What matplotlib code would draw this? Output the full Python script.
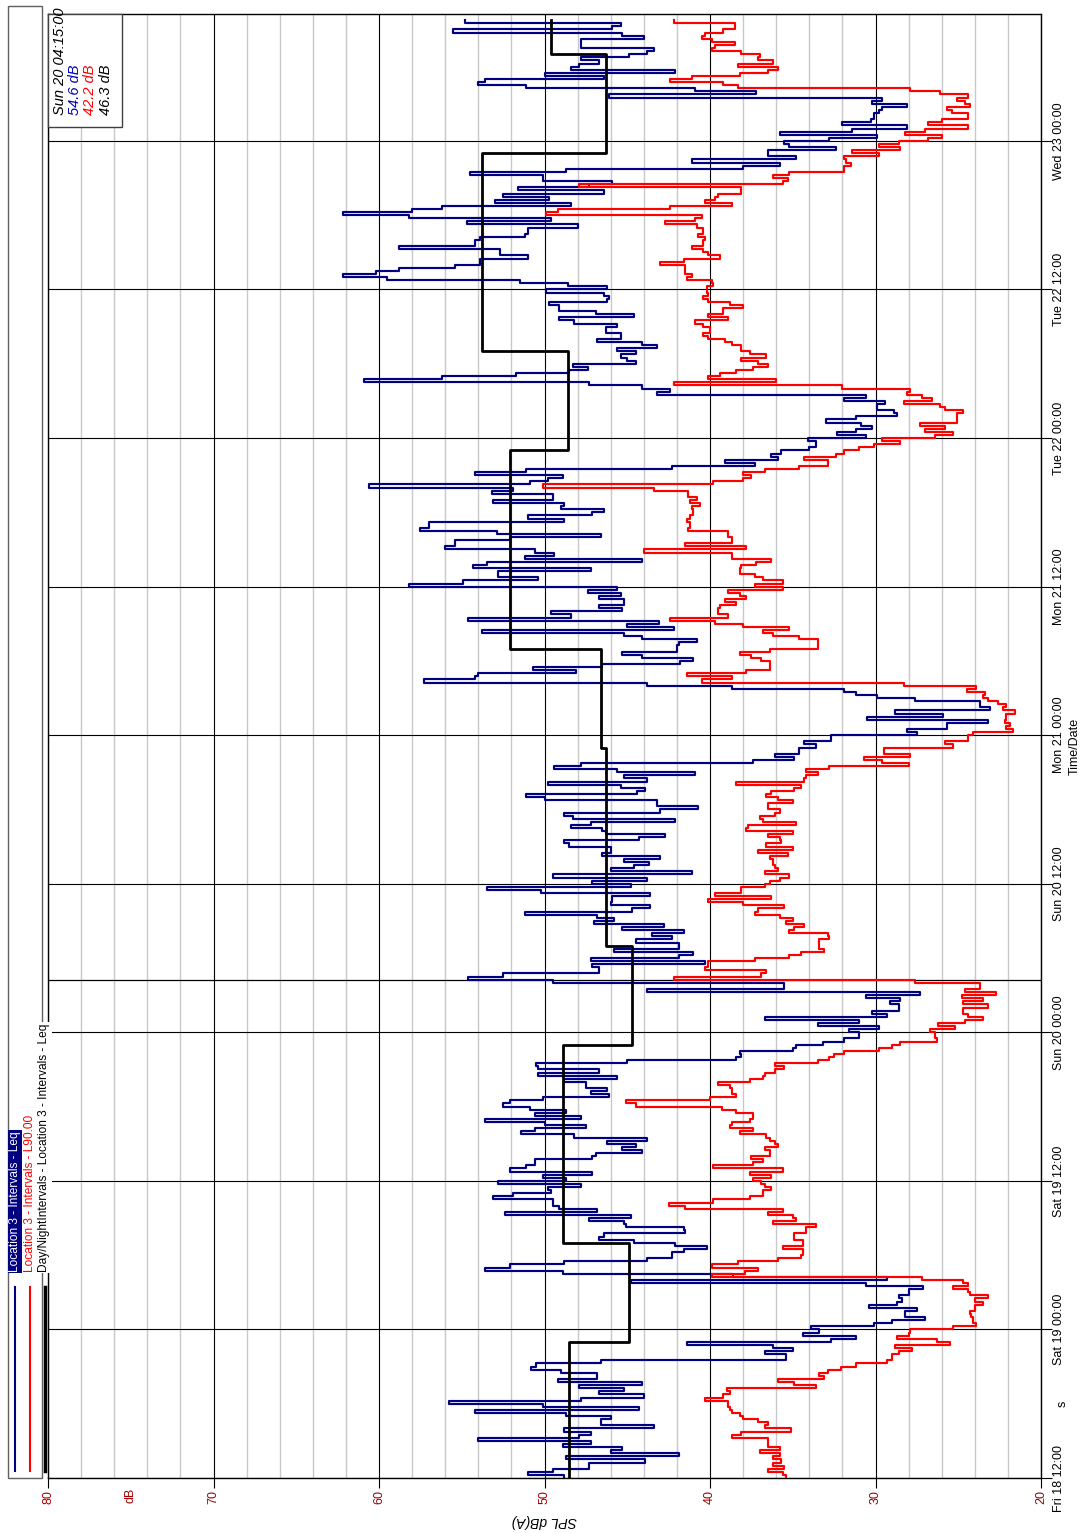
import numpy as np
import pandas as pd
import matplotlib
matplotlib.use("Agg")
import matplotlib.pyplot as plt
import matplotlib.dates as mdates
from matplotlib.lines import Line2D
from matplotlib.patches import Rectangle
from matplotlib.ticker import MultipleLocator, FixedLocator

# 15-minute interval levels, Fri 18 12:00 onwards, in 20 hour blocks
leq_block1 = [
    48.8, 51.0, 49.5, 47.3, 47.3, 43.9, 48.7, 41.9, 46.0, 45.3,
    48.9, 47.2, 54.0, 47.9, 47.2, 48.8, 43.4, 46.6, 46.6, 46.0,
    48.7, 54.2, 44.3, 50.1, 55.8, 47.8, 44.0, 46.7, 45.2, 47.9,
    44.1, 49.2, 46.8, 46.8, 49.0, 50.8, 50.5, 46.6, 35.4, 35.4,
    36.7, 35.0, 36.2, 41.4, 32.7, 31.2, 34.4, 33.4, 33.9, 30.1,
    29.0, 27.0, 28.2, 28.2, 27.5, 30.4, 28.7, 28.4, 28.6, 28.0,
    28.0, 27.1, 30.6, 44.8, 29.3, 38.6, 48.9, 53.6, 52.1, 48.8,
    43.8, 42.3, 42.3, 41.6, 40.2, 42.1, 44.6, 46.7, 46.4, 41.5]
leq_block2 = [
    41.6, 45.1, 45.2, 47.3, 44.8, 52.4, 46.8, 49.1, 49.5, 49.5,
    53.1, 51.9, 49.6, 49.8, 47.8, 52.8, 48.7, 50.1, 47.1, 52.1,
    51.1, 50.6, 50.6, 47.1, 46.9, 44.1, 45.3, 44.5, 46.2, 43.8,
    48.2, 51.4, 50.6, 47.5, 50.0, 53.6, 47.8, 50.6, 48.7, 50.9,
    52.5, 52.1, 50.1, 46.1, 47.2, 46.2, 47.5, 47.5, 48.8, 45.6,
    50.4, 46.7, 50.4, 50.5, 45.0, 38.4, 38.1, 38.2, 35.0, 34.8,
    33.2, 31.9, 31.0, 31.0, 31.6, 29.8, 33.5, 31.0, 36.7, 29.3,
    30.2, 28.6, 28.6, 29.1, 28.5, 30.6, 27.3, 43.8, 35.5, 35.5]
leq_block3 = [
    49.5, 54.6, 52.5, 46.7, 46.7, 47.1, 40.3, 47.2, 41.9, 41.0,
    45.8, 41.9, 41.9, 44.5, 42.3, 43.5, 41.6, 45.3, 42.8, 47.0,
    45.8, 46.8, 51.2, 44.7, 43.6, 46.0, 45.9, 45.9, 43.6, 50.2,
    53.5, 44.8, 47.1, 43.8, 49.5, 41.1, 46.0, 44.6, 43.7, 45.2,
    43.0, 46.5, 46.0, 46.0, 48.5, 48.8, 44.3, 42.7, 46.3, 46.5,
    48.4, 47.2, 42.1, 48.3, 48.8, 43.0, 40.7, 43.2, 43.2, 50.0,
    51.1, 44.4, 43.9, 45.4, 49.8, 43.8, 45.2, 40.9, 45.6, 49.4,
    47.8, 37.4, 34.9, 36.1, 34.6, 34.6, 33.6, 34.3, 32.7, 32.7]
leq_block4 = [
    27.5, 28.1, 25.7, 25.7, 23.2, 30.5, 25.9, 28.8, 23.1, 23.7,
    23.7, 27.6, 29.9, 31.2, 31.9, 38.7, 43.8, 57.3, 54.2, 54.0,
    48.1, 50.7, 46.5, 41.8, 41.0, 44.1, 45.3, 42.0, 42.0, 41.9,
    40.8, 44.1, 45.2, 53.8, 42.2, 45.0, 43.1, 54.6, 48.4, 49.6,
    45.3, 46.7, 45.2, 45.2, 46.7, 45.4, 47.4, 45.6, 58.2, 54.9,
    50.4, 52.8, 52.8, 47.2, 54.3, 53.5, 44.1, 51.2, 49.4, 50.6,
    56.0, 55.4, 55.4, 52.1, 46.6, 52.9, 57.5, 57.0, 57.0, 48.8,
    51.0, 47.1, 46.4, 49.0, 48.8, 53.1, 49.5, 49.5, 53.2, 51.9]
leq_block5 = [
    60.6, 50.9, 49.8, 48.9, 54.2, 51.1, 42.3, 37.3, 39.1, 35.9,
    36.3, 35.7, 34.0, 33.6, 33.6, 34.1, 30.6, 32.3, 31.2, 30.2,
    30.9, 33.0, 31.2, 28.7, 28.9, 29.9, 29.9, 29.4, 31.9, 30.6,
    43.2, 42.4, 44.1, 47.3, 60.9, 56.2, 51.7, 48.5, 47.4, 48.3,
    44.5, 45.0, 45.4, 44.5, 45.6, 43.2, 44.1, 46.8, 45.4, 45.4,
    46.3, 46.3, 45.6, 48.2, 49.1, 44.6, 46.9, 49.1, 49.1, 49.7,
    46.2, 46.1, 46.4, 49.9, 46.2, 48.6, 51.5, 59.5, 62.2, 60.2,
    58.8, 55.4, 53.9, 53.9, 51.0, 52.7, 52.7, 58.8, 54.2, 54.2]
leq_block6 = [
    53.9, 51.2, 51.0, 51.0, 48.0, 54.7, 49.6, 58.2, 62.2, 58.0,
    56.2, 48.4, 53.0, 49.7, 52.5, 46.4, 51.6, 47.3, 45.9, 50.1,
    50.1, 54.5, 48.7, 38.0, 35.8, 41.1, 34.8, 36.5, 36.5, 32.4,
    35.2, 35.5, 32.8, 29.9, 35.8, 31.4, 28.1, 32.0, 30.3, 30.1,
    30.1, 29.8, 29.6, 28.1, 30.2, 29.6, 46.1, 37.2, 40.9, 51.1,
    54.0, 53.6, 46.4, 50.0, 42.1, 48.4, 47.9, 46.7, 47.8, 44.9,
    43.8, 43.4, 47.8, 47.8, 47.8, 44.0, 45.3, 55.5, 45.9, 45.4,
    54.8]

l90_block1 = [
    35.4, 35.6, 36.5, 35.5, 36.2, 35.7, 36.2, 35.8, 37.0, 35.8,
    36.5, 36.5, 36.5, 38.7, 38.1, 35.1, 36.7, 36.5, 37.1, 38.0,
    38.2, 38.7, 38.8, 38.9, 38.9, 40.3, 39.2, 38.8, 39.0, 33.6,
    34.9, 35.9, 33.1, 33.4, 32.9, 32.1, 31.2, 29.3, 29.0, 29.0,
    28.6, 27.8, 28.8, 25.5, 26.3, 28.7, 28.0, 27.9, 25.3, 23.9,
    24.1, 24.1, 24.2, 24.3, 24.0, 24.0, 23.5, 24.0, 23.2, 24.3,
    24.4, 25.3, 24.4, 24.7, 27.2, 39.9, 37.9, 37.1, 39.9, 38.3,
    35.9, 34.5, 34.4, 34.4, 35.6, 34.4, 34.4, 34.9, 34.9, 34.2]
l90_block2 = [
    34.2, 33.6, 36.2, 34.8, 35.0, 36.5, 35.6, 41.5, 42.5, 39.8,
    37.6, 36.8, 36.8, 36.3, 36.7, 36.9, 37.4, 36.3, 37.6, 35.6,
    39.8, 37.4, 36.8, 37.5, 36.4, 36.4, 36.7, 35.9, 36.1, 36.4,
    36.6, 38.2, 37.4, 38.8, 38.7, 37.6, 37.4, 37.4, 38.4, 39.3,
    44.5, 45.1, 40.0, 38.4, 38.7, 38.7, 38.8, 39.5, 37.6, 36.8,
    36.7, 36.1, 35.5, 36.1, 33.5, 32.8, 32.5, 31.9, 29.8, 29.0,
    28.5, 26.3, 26.4, 26.4, 26.7, 25.2, 26.2, 24.6, 23.5, 24.4,
    24.7, 24.7, 23.2, 24.7, 23.5, 24.8, 22.7, 24.6, 23.7, 23.7]
l90_block3 = [
    27.6, 42.2, 36.9, 36.6, 40.3, 40.1, 40.1, 37.3, 35.2, 34.5,
    33.1, 33.4, 33.4, 33.4, 32.8, 32.9, 35.2, 34.9, 34.3, 35.4,
    35.0, 35.8, 37.3, 37.1, 35.5, 38.0, 40.1, 36.3, 39.7, 38.1,
    38.1, 36.7, 36.4, 35.8, 35.2, 36.7, 35.9, 36.1, 36.2, 36.2,
    36.4, 35.3, 37.1, 35.0, 36.6, 35.7, 35.8, 36.5, 35.0, 37.8,
    37.7, 34.8, 36.8, 37.0, 36.1, 35.8, 36.5, 36.5, 35.0, 35.9,
    36.6, 36.3, 34.9, 34.5, 38.4, 34.3, 34.2, 33.5, 34.2, 32.8,
    28.0, 29.6, 30.7, 27.9, 29.5, 29.5, 25.3, 25.8, 24.4, 24.4]
l90_block4 = [
    24.1, 21.7, 22.1, 21.9, 22.2, 22.1, 22.1, 21.6, 22.3, 22.1,
    22.6, 23.2, 23.5, 23.4, 24.5, 23.9, 28.3, 40.5, 38.7, 41.4,
    37.8, 36.4, 36.4, 36.4, 36.9, 37.5, 38.2, 36.4, 33.5, 33.5,
    33.5, 34.6, 36.2, 36.8, 35.2, 38.0, 39.7, 42.4, 38.9, 39.5,
    39.5, 39.4, 38.4, 39.1, 37.8, 38.2, 38.9, 35.6, 37.3, 35.6,
    36.8, 37.3, 38.2, 38.2, 38.1, 37.2, 36.3, 38.7, 38.7, 44.0,
    37.8, 41.5, 38.7, 38.7, 38.9, 38.9, 41.3, 41.2, 41.2, 41.4,
    41.2, 41.0, 41.0, 41.1, 40.6, 41.2, 40.8, 41.3, 41.3, 43.4]
l90_block5 = [
    50.1, 39.8, 38.0, 37.5, 38.0, 36.7, 34.6, 32.9, 32.9, 34.3,
    32.4, 31.9, 31.0, 30.1, 28.5, 29.6, 26.4, 25.3, 27.0, 25.8,
    27.3, 25.1, 25.1, 25.1, 24.7, 25.8, 26.1, 28.3, 26.6, 27.2,
    28.1, 27.9, 32.0, 42.2, 36.0, 40.1, 39.4, 38.4, 37.4, 36.5,
    37.1, 38.1, 36.6, 37.6, 38.1, 38.1, 38.7, 39.1, 40.1, 40.4,
    40.0, 40.0, 40.4, 40.9, 38.9, 40.1, 39.2, 39.2, 38.0, 38.8,
    40.1, 40.4, 40.1, 40.2, 40.2, 39.8, 39.9, 41.4, 41.1, 41.5,
    41.5, 41.5, 43.0, 41.6, 39.4, 40.1, 40.4, 41.1, 40.4, 40.4]
l90_block6 = [
    40.3, 40.7, 40.4, 40.4, 40.8, 42.7, 40.9, 40.5, 49.9, 49.2,
    42.4, 38.7, 40.3, 39.7, 39.5, 38.1, 38.1, 47.9, 35.6, 35.3,
    36.2, 35.2, 31.9, 31.9, 31.5, 31.8, 31.9, 29.8, 31.4, 28.5,
    29.8, 28.6, 26.8, 26.0, 28.2, 27.0, 24.4, 26.8, 26.0, 24.4,
    24.4, 25.4, 25.7, 24.3, 24.6, 25.1, 24.4, 26.1, 27.9, 38.3,
    39.2, 42.4, 41.1, 38.2, 36.5, 35.9, 38.3, 36.2, 37.1, 37.0,
    38.1, 39.9, 39.7, 38.5, 39.9, 40.5, 40.3, 39.2, 38.5, 38.5,
    42.2]

# day (07-23) / night (23-07) Leq periods
dn_edges = ["2015-09-18 12:00", "2015-09-18 23:00", "2015-09-19 07:00",
            "2015-09-19 23:00", "2015-09-20 07:00", "2015-09-20 23:00",
            "2015-09-21 07:00", "2015-09-21 23:00", "2015-09-22 07:00",
            "2015-09-22 23:00", "2015-09-23 07:00", "2015-09-23 09:45"]
dn_levels = [48.5, 44.9, 48.9, 44.7, 46.3, 46.6, 52.1, 48.6, 53.8, 46.3, 49.6]

start = pd.Timestamp("2015-09-18 12:00")
view_end = pd.Timestamp("2015-09-23 10:15")
cursor = pd.Timestamp("2015-09-20 04:15")
cursor_dn = 46.3

leq = np.concatenate([leq_block1, leq_block2, leq_block3,
                      leq_block4, leq_block5, leq_block6])
l90 = np.concatenate([l90_block1, l90_block2, l90_block3,
                      l90_block4, l90_block5, l90_block6])
edges = pd.date_range(start, periods=len(leq) + 1, freq="15min")


def vstep(t_edges, vals):
    # step trace with time running up the page
    t = np.repeat(np.asarray(t_edges, dtype="datetime64[ns]"), 2)[1:-1]
    return np.repeat(np.asarray(vals, dtype=float), 2), t


W, H = 1091, 1533
def fx(px):
    return px / W
def fy(py):
    return 1 - py / H

narrow = ["Liberation Sans Narrow", "Liberation Sans", "DejaVu Sans"]
plain = ["Liberation Sans", "DejaVu Sans"]
plt.rcParams["font.family"] = plain

fig = plt.figure(figsize=(W / 100, H / 100), dpi=100)
ax = fig.add_axes([fx(48), fy(1478), (1041 - 48) / W, (1478 - 14) / H])

x, t = vstep(edges, leq)
ax.plot(x, t, color="#000080", lw=1.55, zorder=3)
x, t = vstep(edges, l90)
ax.plot(x, t, color="#ff0000", lw=1.55, zorder=4)
x, t = vstep(pd.to_datetime(dn_edges), dn_levels)
ax.plot(x, t, color="black", lw=2.0, zorder=5)
ax.axhline(cursor, color="black", lw=0.9, zorder=2)

ax.set_xlim(80, 20)
ax.set_ylim(start, view_end)

ax.xaxis.set_major_locator(FixedLocator([80, 70, 60, 50, 40, 30, 20]))
ax.xaxis.set_minor_locator(MultipleLocator(2))
ax.yaxis.set_major_locator(mdates.HourLocator(byhour=[0, 12]))
ax.yaxis.set_major_formatter(mdates.DateFormatter("%a %d %H:%M"))
ax.yaxis.tick_right()

ax.grid(which="minor", axis="x", color="#c8c8c8", lw=1.0, zorder=0)
ax.grid(which="major", axis="x", color="black", lw=0.8, zorder=1)
ax.grid(which="major", axis="y", color="black", lw=0.8, zorder=1)
ax.set_axisbelow(True)

ax.tick_params(axis="x", which="major", length=7, width=0.8, pad=2,
               labelrotation=90, labelcolor="#a00000", labelsize=9)
ax.tick_params(axis="x", which="minor", length=0)
ax.tick_params(axis="y", which="major", length=8, width=0.8, pad=1,
               labelrotation=90, labelsize=9)
for lbl in ax.get_xticklabels() + ax.get_yticklabels():
    lbl.set_family(narrow)
for lbl in ax.get_yticklabels():
    lbl.set_va("center")
for sp in ax.spines.values():
    sp.set_linewidth(1.0)

ax.text(75, -0.0066, "dB", transform=ax.get_xaxis_transform(), rotation=90,
        ha="center", va="top", color="#a00000", fontsize=9, family=narrow)
ax.text(1.016, start + pd.Timedelta(hours=6), "s",
        transform=ax.get_yaxis_transform(), rotation=90, ha="left",
        va="center", fontsize=9, family=narrow)

ax.set_xlabel("SPL dB(A)", rotation=180, style="italic", fontsize=10,
              va="center", ha="center")
ax.xaxis.set_label_coords(0.5, -(1521 - 1478) / 1464)
ax.yaxis.set_label_position("right")
ax.set_ylabel("Time/Date", rotation=90, fontsize=9, family=narrow,
              va="center", ha="center")
ax.yaxis.set_label_coords((1075 - 48) / 993, 0.5)

# legend strip on the left
fig.add_artist(Rectangle((fx(8), fy(1478)), (42 - 8) / W, (1478 - 6) / H,
                         transform=fig.transFigure, facecolor="white",
                         edgecolor="#606060", lw=1.0, zorder=1))
entries = [("Location 3 - Intervals - Leq", "#000080", 15, 1.5),
           ("Location 3 - Intervals - L90.00", "#ff0000", 30, 1.5),
           ("Day/NightIntervals - Location 3 - Intervals - Leq", "black", 44.5, 2.5)]
for label, colour, xp, lw in entries:
    fig.add_artist(Line2D([fx(xp), fx(xp)], [fy(1471), fy(1287)], color=colour,
                          lw=lw, transform=fig.transFigure, zorder=2))
for i, (label, colour, xp, lw) in enumerate(entries):
    if i == 0:
        kw = dict(color="white", bbox=dict(boxstyle="square,pad=0.1",
                                           fc="#000080", ec="none"))
    else:
        kw = dict(color=colour, bbox=dict(boxstyle="square,pad=0.1",
                                          fc="white", ec="none"))
    fig.text(fx(xp), fy(1272), label, rotation=90, ha="center", va="bottom",
             fontsize=8.6, family=narrow, zorder=3, **kw)

# cursor readout box
leq_now = pd.Series(leq, index=edges[:-1]).asof(cursor)
l90_now = pd.Series(l90, index=edges[:-1]).asof(cursor)
fig.add_artist(Rectangle((fx(48), fy(127)), (122 - 48) / W, (127 - 14) / H,
                         transform=fig.transFigure, facecolor="white",
                         edgecolor="#404040", lw=1.0, zorder=2))
readout = [(cursor.strftime("%a %d %H:%M:%S"), "black", 60),
           (f"{leq_now:.1f} dB", "#0000c0", 75),
           (f"{l90_now:.1f} dB", "#ff0000", 90),
           (f"{cursor_dn:.1f} dB", "black", 106)]
for txt, colour, xp in readout:
    fig.text(fx(xp), fy(115), txt, rotation=90, ha="center", va="bottom",
             color=colour, style="italic", fontsize=10.5, zorder=3)

fig.savefig("out.png", dpi=100)
